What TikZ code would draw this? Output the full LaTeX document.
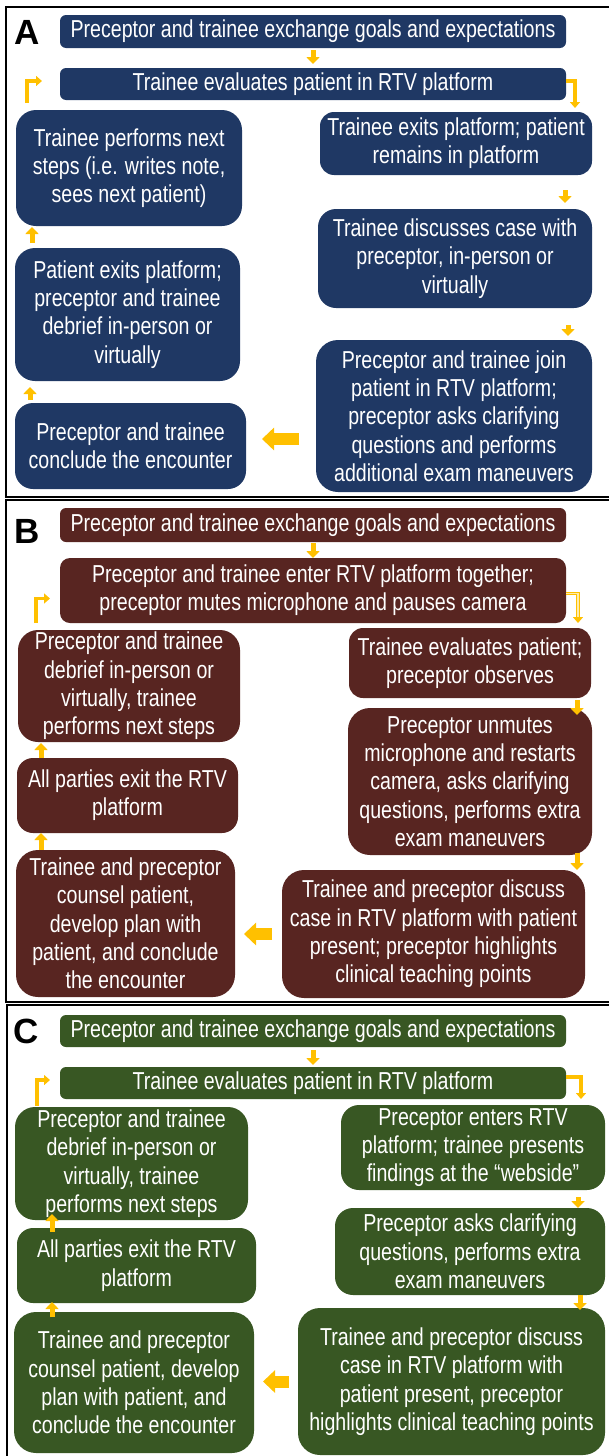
\documentclass[tikz,border=0pt]{standalone}
\usepackage{fontspec}
\setmainfont{Liberation Sans}[FakeStretch=0.80]
\newfontfamily\lblfont{Liberation Sans}
\usetikzlibrary{arrows.meta}
\definecolor{navyc}{RGB}{31,56,100}
\definecolor{brownc}{RGB}{88,37,33}
\definecolor{greenc}{RGB}{56,87,35}
\definecolor{goldc}{RGB}{255,192,0}
\definecolor{goldlt}{RGB}{255,236,170}
\newcommand\bxfont{\fontsize{24.5}{28.3}\selectfont}
\newcommand\mkbox[7]{\node[#6, minimum width={(#4)-(#2)}, minimum height={(#5)-(#3)}] (#1) at ({((#2)+(#4))/2},{((#3)+(#5))/2}) {#7};}
\tikzset{
  pbox/.style={rectangle, text=white, align=center, inner sep=2pt, outer sep=0pt, font=\bxfont},
  navybox/.style={pbox, fill=navyc, rounded corners=#1},
  brownbox/.style={pbox, fill=brownc, rounded corners=#1},
  greenbox/.style={pbox, fill=greenc, rounded corners=#1},
  panel/.style={draw=black, line width=2pt},
  plabel/.style={font=\lblfont\bfseries\fontsize{35}{35}\selectfont, text=black, inner sep=0pt},
  gdown/.style={draw=goldc, line width=5pt, -{Triangle[width=13pt,length=7pt]}},
  gbent/.style={draw=goldc, line width=3.5pt, line join=miter, -{Triangle[width=10pt,length=6pt]}},
  gleft/.style={draw=goldc, line width=12pt, -{Triangle[width=22pt,length=12pt]}},
}
\begin{document}
\begin{tikzpicture}[x=1pt,y=-1pt]
\useasboundingbox (0,0) rectangle (608,1456);
% panel borders
\draw[panel] (610,7) -- (6,7) -- (6,497) -- (610,497);
\draw[panel] (610,500) -- (6,500) -- (6,1002) -- (610,1002);
\draw[panel] (610,1005) -- (7,1005) -- (7,1458);
% labels
\node[plabel] (la) at (27,32) {A};
\node[plabel] (lb) at (27,531) {B};
\node[plabel] (lc) at (26,1031) {C};

% ---------------- Panel A
\mkbox{a1}{60}{15}{566}{48}{navybox=6pt}{Preceptor and trainee exchange goals and expectations}
\mkbox{a2}{60}{68}{566}{100}{navybox=6pt}{Trainee evaluates patient in RTV platform}
\mkbox{a3}{16}{110}{242}{226}{navybox=20pt}{Trainee performs next\\steps (i.e. writes note,\\sees next patient)}
\mkbox{a4}{320}{112}{592}{175}{navybox=14pt}{Trainee exits platform; patient\\remains in platform}
\mkbox{a5}{318}{209}{592}{308}{navybox=18pt}{Trainee discusses case with\\preceptor, in-person or\\virtually}
\mkbox{a6}{15}{248}{240}{381}{navybox=20pt}{Patient exits platform;\\preceptor and trainee\\debrief in-person or\\virtually}
\mkbox{a7}{316}{340}{592}{492}{navybox=22pt}{Preceptor and trainee join\\patient in RTV platform;\\preceptor asks clarifying\\questions and performs\\additional exam maneuvers}
\mkbox{a8}{15}{403}{246}{489}{navybox=18pt}{Preceptor and trainee\\conclude the encounter}

\draw[gdown, shorten <=2pt, shorten >=4pt] (a1.south) -- (a2.north);
\draw[gbent, shorten <=7pt, shorten >=18pt] ([xshift=11pt]a3.north west) |- ([yshift=3pt]a2.west);
\draw[gbent, shorten >=4pt] ([yshift=3pt]a2.east) -| ([xshift=-17pt]a4.north east);
\draw[gdown, shorten <=15pt, shorten >=6pt] ([xshift=-27pt]a4.south east) -- ([xshift=-27pt]a4.south east |- a5.north);
\draw[gdown, shorten <=17pt, shorten >=4pt] ([xshift=-24pt]a5.south east) -- ([xshift=-24pt]a5.south east |- a7.north);
\draw[gleft, shorten <=17pt, shorten >=16pt] ([yshift=7pt]a7.west |- a8.east) -- ([yshift=7pt]a8.east);
\draw[gdown, shorten <=3pt, shorten >=6pt] ([xshift=15pt]a8.north west) -- ([xshift=15pt]a8.north west |- a6.south);
\draw[gdown, shorten <=5pt, shorten >=1pt] ([xshift=17pt]a6.north west) -- ([xshift=17pt]a6.north west |- a3.south);

% ---------------- Panel B
\mkbox{b1}{60}{508}{566}{542}{brownbox=6pt}{Preceptor and trainee exchange goals and expectations}
\mkbox{b2}{60}{558}{566}{623}{brownbox=10pt}{Preceptor and trainee enter RTV platform together;\\preceptor mutes microphone and pauses camera}
\mkbox{b3}{18}{630}{240}{742}{brownbox=20pt}{Preceptor and trainee\\debrief in-person or\\virtually, trainee\\performs next steps}
\mkbox{b4}{349}{628}{591}{698}{brownbox=14pt}{Trainee evaluates patient;\\preceptor observes}
\mkbox{b5}{348}{708}{592}{855}{brownbox=22pt}{Preceptor unmutes\\microphone and restarts\\camera, asks clarifying\\questions, performs extra\\exam maneuvers}
\mkbox{b6}{17}{758}{238}{833}{brownbox=16pt}{All parties exit the RTV\\platform}
\mkbox{b7}{16}{850}{235}{997}{brownbox=22pt}{Trainee and preceptor\\counsel patient,\\develop plan with\\patient, and conclude\\the encounter}
\mkbox{b8}{282}{870}{585}{998}{brownbox=22pt}{Trainee and preceptor discuss\\case in RTV platform with patient\\present; preceptor highlights\\clinical teaching points}

\draw[gdown, shorten <=1pt, shorten >=0pt] (b1.south) -- (b2.north);
\draw[gbent, shorten <=7pt, shorten >=10pt] ([xshift=18pt]b3.north west) |- ([yshift=-8pt]b2.west);
\draw[gbent, shorten >=5pt] ([yshift=-3pt]b2.east) -| ([xshift=-13pt]b4.north east);
\draw[goldlt, line width=1.3pt, shorten >=11pt] ([yshift=-3pt]b2.east) -| ([xshift=-13pt]b4.north east);
\draw[gdown, shorten <=2pt, shorten >=-7pt] ([xshift=-14pt]b4.south east) -- ([xshift=-14pt]b4.south east |- b5.north);
\draw[gdown, shorten <=-2pt, shorten >=0pt] ([xshift=-15pt]b5.south east) -- ([xshift=-15pt]b5.south east |- b8.north);
\draw[gleft, shorten <=10pt, shorten >=9pt] (b8.west) -- (b8.west -| b7.east);
\draw[gdown, shorten <=0pt, shorten >=0pt] ([xshift=25pt]b7.north west) -- ([xshift=25pt]b7.north west |- b6.south);
\draw[gdown, shorten <=0pt, shorten >=1pt] ([xshift=24pt]b6.north west) -- ([xshift=24pt]b6.north west |- b3.south);

% ---------------- Panel C
\mkbox{c1}{60}{1015}{566}{1047}{greenbox=6pt}{Preceptor and trainee exchange goals and expectations}
\mkbox{c2}{60}{1067}{566}{1099}{greenbox=6pt}{Trainee evaluates patient in RTV platform}
\mkbox{c3}{15}{1107}{248}{1220}{greenbox=20pt}{Preceptor and trainee\\debrief in-person or\\virtually, trainee\\performs next steps}
\mkbox{c4}{341}{1105}{605}{1190}{greenbox=18pt}{Preceptor enters RTV\\platform; trainee presents\\findings at the “webside”}
\mkbox{c5}{335}{1208}{605}{1295}{greenbox=18pt}{Preceptor asks clarifying\\questions, performs extra\\exam maneuvers}
\mkbox{c6}{17}{1228}{256}{1303}{greenbox=16pt}{All parties exit the RTV\\platform}
\mkbox{c7}{14}{1312}{254}{1453}{greenbox=22pt}{Trainee and preceptor\\counsel patient, develop\\plan with patient, and\\conclude the encounter}
\mkbox{c8}{298}{1308}{605}{1455}{greenbox=22pt}{Trainee and preceptor discuss\\case in RTV platform with\\patient present, preceptor\\highlights clinical teaching points}

\draw[gdown, shorten <=3pt, shorten >=2pt] (c1.south) -- (c2.north);
\draw[gbent, shorten <=1pt, shorten >=10pt] ([xshift=22pt]c3.north west) |- ([yshift=3pt]c2.west);
\draw[gbent, shorten >=6pt] ([yshift=6pt]c2.east) -| ([xshift=-24pt]c4.north east);
\draw[gdown, shorten <=7pt, shorten >=0pt] ([xshift=-27pt]c4.south east) -- ([xshift=-27pt]c4.south east |- c5.north);
\draw[gdown, shorten <=0pt, shorten >=-2pt] ([xshift=-25pt]c5.south east) -- ([xshift=-25pt]c5.south east |- c8.north);
\draw[gleft, shorten <=9pt, shorten >=9pt] (c8.west) -- (c8.west -| c7.east);
\draw[gdown, shorten <=-5pt, shorten >=-1pt] ([xshift=38pt]c7.north west) -- ([xshift=38pt]c7.north west |- c6.south);
\draw[gdown, shorten <=-4pt, shorten >=-6pt] ([xshift=35pt]c6.north west) -- ([xshift=35pt]c6.north west |- c3.south);
\end{tikzpicture}
\end{document}
